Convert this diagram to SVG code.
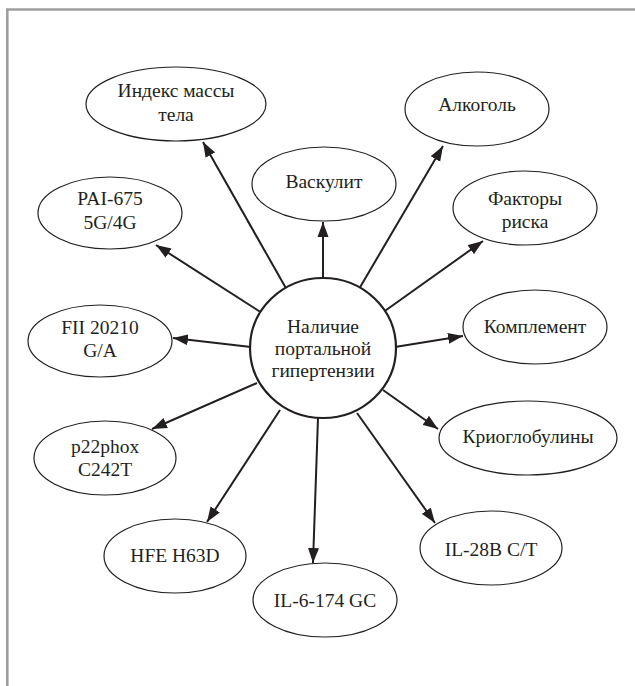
<svg xmlns="http://www.w3.org/2000/svg" width="635" height="686" viewBox="0 0 635 686">
<style>
.n ellipse{fill:#fff;stroke:#231f20;stroke-width:1.2}
.c ellipse{fill:#fff;stroke:#231f20;stroke-width:2.2}
text{font-family:"Liberation Serif","Times New Roman",serif;font-size:19.5px;fill:#231f20;text-anchor:middle}
#edges line{stroke:#231f20;stroke-width:2}
</style>
<defs>
<marker id="ah" markerUnits="userSpaceOnUse" markerWidth="16" markerHeight="12" refX="15" refY="6" orient="auto">
<path d="M0,0.5 L15,6 L0,11.5 Z" fill="#231f20"/>
</marker>
</defs>
<rect width="635" height="686" fill="#fff"/>
<path d="M7.3,686 V9.5 H635" fill="none" stroke="#9e9e9e" stroke-width="2.6"/>
<g id="edges">
<line x1="287" y1="290" x2="203" y2="142" marker-end="url(#ah)"/>
<line x1="323" y1="278" x2="323" y2="222" marker-end="url(#ah)"/>
<line x1="359" y1="289" x2="443" y2="146" marker-end="url(#ah)"/>
<line x1="382" y1="313" x2="483" y2="241" marker-end="url(#ah)"/>
<line x1="395" y1="347" x2="463" y2="336" marker-end="url(#ah)"/>
<line x1="383" y1="390" x2="438" y2="429" marker-end="url(#ah)"/>
<line x1="357" y1="413" x2="435" y2="523" marker-end="url(#ah)"/>
<line x1="318" y1="418" x2="313" y2="563" marker-end="url(#ah)"/>
<line x1="280" y1="410" x2="207" y2="522" marker-end="url(#ah)"/>
<line x1="257" y1="383" x2="152" y2="429" marker-end="url(#ah)"/>
<line x1="251" y1="347" x2="173" y2="338" marker-end="url(#ah)"/>
<line x1="262" y1="313" x2="156" y2="245" marker-end="url(#ah)"/>
</g>
<g id="center" class="c"><ellipse cx="323" cy="348" rx="73" ry="70"/>
<text x="323" y="333">Наличие</text><text x="323" y="355">портальной</text><text x="323" y="377">гипертензии</text></g>
<g id="bmi" class="n"><ellipse cx="176" cy="104" rx="90" ry="37"/><text x="176" y="97">Индекс массы</text><text x="176" y="121">тела</text></g>
<g id="vasculitis" class="n"><ellipse cx="324" cy="184" rx="72" ry="37"/><text x="324" y="188">Васкулит</text></g>
<g id="alcohol" class="n"><ellipse cx="477" cy="109" rx="72" ry="37"/><text x="477" y="111">Алкоголь</text></g>
<g id="risk" class="n"><ellipse cx="525" cy="208" rx="72" ry="37"/><text x="525" y="205">Факторы</text><text x="525" y="228">риска</text></g>
<g id="complement" class="n"><ellipse cx="535" cy="327" rx="72" ry="37"/><text x="535" y="333">Комплемент</text></g>
<g id="cryo" class="n"><ellipse cx="528" cy="438" rx="89" ry="37"/><text x="528" y="443">Криоглобулины</text></g>
<g id="il28b" class="n"><ellipse cx="491" cy="548" rx="71" ry="37"/><text x="491" y="556">IL-28B C/T</text></g>
<g id="il6" class="n"><ellipse cx="325" cy="600" rx="72" ry="37"/><text x="325" y="607">IL-6-174 GC</text></g>
<g id="hfe" class="n"><ellipse cx="175" cy="556" rx="71" ry="37"/><text x="175" y="562">HFE H63D</text></g>
<g id="p22" class="n"><ellipse cx="105" cy="458" rx="71" ry="37"/><text x="105" y="453">p22phox</text><text x="105" y="476">C242T</text></g>
<g id="fii" class="n"><ellipse cx="100" cy="341" rx="72" ry="36"/><text x="100" y="334">FII 20210</text><text x="100" y="357">G/A</text></g>
<g id="pai" class="n"><ellipse cx="110" cy="213" rx="72" ry="36"/><text x="110" y="205">PAI-675</text><text x="110" y="229">5G/4G</text></g>
</svg>
